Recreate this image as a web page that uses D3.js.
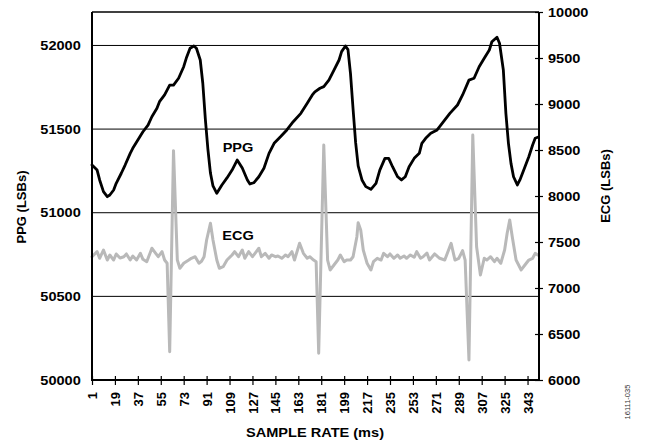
<!DOCTYPE html>
<html>
<head>
<meta charset="utf-8">
<script src="https://cdn.jsdelivr.net/npm/d3@7"></script>
<style>
  html, body { margin: 0; padding: 0; background: #fff; }
  svg { display: block; font-family: "Liberation Sans", Arial, sans-serif; }
</style>
</head>
<body>
<svg></svg>
<script>
// values
const ppgSamples = [1, 5, 7, 10, 13, 15, 18, 20, 24, 27, 31, 33, 37, 41, 45, 48, 52, 54, 58, 62,
  65, 69, 73, 75, 78, 81, 83, 86, 88, 90, 92, 94, 96, 99, 103, 107, 111, 115, 119, 123,
  125, 128, 132, 136, 140, 144, 149, 154, 159, 165, 170, 174, 176, 180, 183, 187, 191, 195, 197, 200,
  202, 204, 206, 208, 210, 213, 216, 220, 224, 227, 231, 234, 237, 241, 244, 247, 250, 254, 258, 260,
  263, 267, 272, 277, 282, 288, 292, 297, 301, 305, 309, 313, 315, 319, 321, 324, 326, 328, 330, 332,
  335, 337, 341, 344, 347, 349, 351];
const ppgValues = [51285, 51255, 51196, 51126, 51096, 51106, 51136, 51176, 51236, 51285, 51355, 51385, 51435, 51484, 51524, 51574, 51624, 51664, 51704, 51763,
  51763, 51804, 51873, 51923, 51983, 51997, 51983, 51913, 51774, 51560, 51380, 51237, 51160, 51116, 51166, 51208, 51255, 51315, 51267, 51196,
  51172, 51179, 51215, 51266, 51355, 51415, 51454, 51495, 51544, 51594, 51654, 51704, 51723, 51744, 51754, 51793, 51853, 51913, 51963, 51997,
  51975, 51830, 51620, 51420, 51280, 51196, 51156, 51140, 51176, 51255, 51325, 51325, 51275, 51215, 51196, 51215, 51275, 51325, 51355, 51415,
  51445, 51475, 51495, 51544, 51594, 51644, 51704, 51793, 51804, 51873, 51923, 51973, 52022, 52049, 52013, 51853, 51594, 51415, 51295, 51215,
  51166, 51196, 51275, 51335, 51405, 51445, 51451];

const ecgSamples = [1, 5, 7, 10, 13, 15, 18, 20, 23, 26, 28, 31, 33, 36, 39, 41, 44, 47, 48, 50,
  53, 56, 58, 60, 62, 65, 68, 70, 73, 77, 79, 82, 85, 87, 89, 91, 94, 96, 99, 101,
  104, 107, 111, 113, 116, 119, 121, 124, 127, 129, 132, 134, 137, 140, 142, 145, 147, 150, 153, 155,
  158, 160, 164, 167, 170, 172, 175, 177, 179, 183, 186, 188, 191, 194, 196, 199, 201, 204, 206, 209,
  210, 212, 214, 217, 220, 222, 225, 228, 230, 233, 235, 238, 241, 243, 246, 248, 251, 254, 256, 259,
  261, 264, 266, 270, 274, 278, 283, 286, 289, 292, 294, 297, 300, 303, 306, 309, 311, 314, 317, 319,
  322, 325, 327, 329, 331, 334, 338, 342, 344, 347, 349, 351];
const ecgValues = [7340, 7395, 7323, 7413, 7304, 7359, 7304, 7370, 7326, 7340, 7370, 7304, 7348, 7304, 7377, 7312, 7286, 7395, 7432, 7395,
  7340, 7395, 7304, 7269, 6308, 8493, 7304, 7214, 7269, 7304, 7323, 7340, 7269, 7290, 7340, 7522, 7703, 7522, 7304, 7214,
  7232, 7304, 7359, 7395, 7340, 7413, 7323, 7395, 7340, 7377, 7432, 7340, 7377, 7323, 7359, 7340, 7348, 7323, 7359, 7340,
  7395, 7304, 7486, 7377, 7323, 7340, 7304, 7286, 6290, 8554, 7304, 7196, 7250, 7304, 7359, 7286, 7304, 7304, 7340, 7558,
  7710, 7631, 7413, 7269, 7196, 7286, 7323, 7304, 7377, 7340, 7370, 7323, 7359, 7323, 7348, 7323, 7359, 7334, 7395, 7323,
  7340, 7380, 7304, 7370, 7323, 7304, 7486, 7304, 7323, 7406, 7304, 6217, 8663, 7449, 7141, 7323, 7304, 7340, 7286, 7323,
  7269, 7413, 7595, 7739, 7558, 7304, 7196, 7269, 7304, 7323, 7377, 7359];

const xTicks = [1, 19, 37, 55, 73, 91, 109, 127, 145, 163, 181, 199, 217, 235, 253, 271, 289, 307, 325, 343];
const ppgTicks = [50000, 50500, 51000, 51500, 52000];
const ecgTicks = [6000, 6500, 7000, 7500, 8000, 8500, 9000, 9500, 10000];

const svgSize = { width: 645, height: 443 };
const plot = { left: 92, right: 539, top: 12, bottom: 380 };
const STRETCH = "scale(1.12,1)";
const fmt = d3.format("d");

const svg = d3.select("svg").attr("width", svgSize.width).attr("height", svgSize.height);

const x = d3.scaleLinear().domain([1, 352]).range([plot.left, plot.right]);
const yPpg = d3.scaleLinear().domain([50000, 52200]).range([plot.bottom, plot.top]);
const yEcg = d3.scaleLinear().domain([6000, 10000]).range([plot.bottom, plot.top]);

// gridlines on the PPG ticks
svg.append("g").selectAll("line").data(ppgTicks.slice(1)).enter().append("line")
  .attr("x1", plot.left).attr("x2", plot.right)
  .attr("y1", d => yPpg(d)).attr("y2", d => yPpg(d))
  .attr("stroke", "#000").attr("stroke-width", 1);

// series
const ecgLine = d3.line().x(d => x(d[0])).y(d => yEcg(d[1]));
const ppgLine = d3.line().x(d => x(d[0])).y(d => yPpg(d[1]));

svg.append("path").datum(ecgSamples.map((s, i) => [s, ecgValues[i]]))
  .attr("d", ecgLine).attr("fill", "none").attr("stroke", "#b9b9b9")
  .attr("stroke-width", 3).attr("stroke-linejoin", "round").attr("stroke-linecap", "round");

svg.append("path").datum(ppgSamples.map((s, i) => [s, ppgValues[i]]))
  .attr("d", ppgLine).attr("fill", "none").attr("stroke", "#000")
  .attr("stroke-width", 2.8).attr("stroke-linejoin", "round").attr("stroke-linecap", "round");

// axes
const leftAxis = svg.append("g").attr("transform", `translate(${plot.left},0)`)
  .call(d3.axisLeft(yPpg).tickValues(ppgTicks).tickFormat(fmt).tickSize(0).tickPadding(0));
leftAxis.select(".domain").remove();
leftAxis.selectAll("text").attr("x", -10).attr("transform", STRETCH);

const rightAxis = svg.append("g").attr("transform", `translate(${plot.right},0)`)
  .call(d3.axisRight(yEcg).tickValues(ecgTicks).tickFormat(fmt).tickSize(0).tickPadding(0));
rightAxis.select(".domain").remove();
rightAxis.selectAll(".tick line").attr("x1", -4).attr("x2", 4).attr("stroke-width", 1.2);
rightAxis.selectAll("text").attr("x", 8).attr("transform", STRETCH);

const bottomAxis = svg.append("g").attr("transform", `translate(0,${plot.bottom})`)
  .call(d3.axisBottom(x).tickValues(xTicks).tickFormat(fmt).tickSize(0).tickPadding(0));
bottomAxis.select(".domain").remove();
bottomAxis.selectAll(".tick line").attr("y1", -4).attr("y2", 5).attr("stroke-width", 1.2);
bottomAxis.selectAll("text").attr("transform", "rotate(-90)")
  .attr("x", -12).attr("y", 0).attr("dy", "0.35em").attr("text-anchor", "end");

svg.selectAll(".tick text").attr("font-size", 13).attr("font-weight", "bold")
  .attr("font-family", "Liberation Sans, Arial, sans-serif").attr("fill", "#000");

// frame
svg.append("line").attr("x1", plot.left).attr("x2", plot.right).attr("y1", plot.top).attr("y2", plot.top)
  .attr("stroke", "#000").attr("stroke-width", 1.5);
svg.append("line").attr("x1", plot.left).attr("x2", plot.left).attr("y1", plot.top).attr("y2", plot.bottom + 1)
  .attr("stroke", "#000").attr("stroke-width", 2);
svg.append("line").attr("x1", plot.right).attr("x2", plot.right).attr("y1", plot.top).attr("y2", plot.bottom + 1)
  .attr("stroke", "#000").attr("stroke-width", 2);
svg.append("line").attr("x1", plot.left).attr("x2", plot.right).attr("y1", plot.bottom).attr("y2", plot.bottom)
  .attr("stroke", "#000").attr("stroke-width", 2);

// titles
const bold = sel => sel.attr("font-size", 13).attr("font-weight", "bold").attr("fill", "#000");

svg.append("text").attr("transform", "translate(26,207) rotate(-90)")
  .attr("text-anchor", "middle").text("PPG (LSBs)").call(bold);
svg.append("text").attr("transform", "translate(610,186) rotate(-90)")
  .attr("text-anchor", "middle").text("ECG (LSBs)").call(bold);
svg.append("text").attr("transform", `translate(315,437) ${STRETCH}`)
  .attr("text-anchor", "middle").text("SAMPLE RATE (ms)").call(bold);

svg.append("text").attr("transform", `translate(238,152) ${STRETCH}`)
  .attr("text-anchor", "middle").text("PPG").call(bold);
svg.append("text").attr("transform", `translate(238,240) ${STRETCH}`)
  .attr("text-anchor", "middle").text("ECG").call(bold);

svg.append("text").attr("transform", "translate(630,402) rotate(-90)")
  .attr("text-anchor", "middle").attr("font-size", 7.5).attr("fill", "#333")
  .text("16111-035");
</script>
</body>
</html>
